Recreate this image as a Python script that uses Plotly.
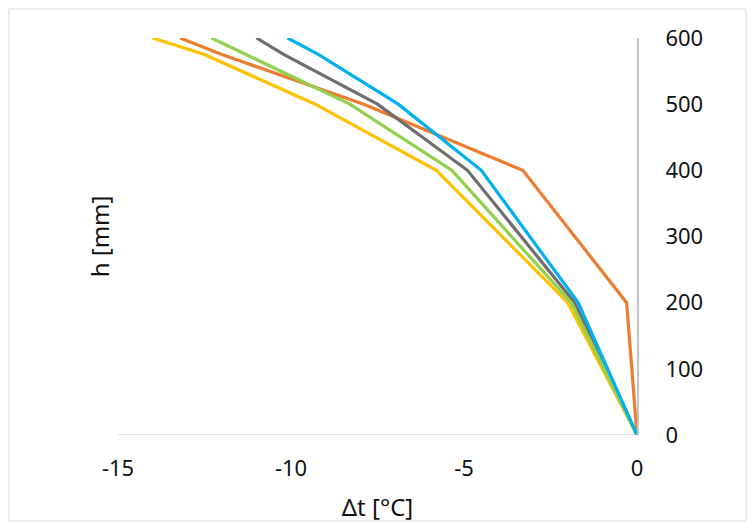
import plotly.graph_objects as go

# Height above the base [mm]
heights = [0, 200, 400, 500, 575, 600]

# Temperature difference profiles [°C]
series = {
    "A": [0, -0.3, -3.3, -7.9, -12.0, -13.2],
    "B": [0, -1.8, -4.9, -7.5, -10.2, -11.0],
    "C": [0, -2.0, -5.8, -9.3, -12.5, -14.0],
    "D": [0, -1.9, -5.35, -8.3, -11.3, -12.3],
    "E": [0, -1.7, -4.5, -6.9, -9.2, -10.1],
}
colors = {
    "A": "#ED7D31",
    "B": "#6E6E6E",
    "C": "#FFC000",
    "D": "#92D050",
    "E": "#00B0F0",
}

x_ticks = [-15, -10, -5, 0]
y_ticks = [0, 100, 200, 300, 400, 500, 600]

fig = go.Figure()
for name, vals in series.items():
    fig.add_trace(go.Scatter(
        x=vals, y=heights, mode="lines", name=name,
        line=dict(color=colors[name], width=3.2),
        showlegend=False,
    ))

tick_font = dict(family="Noto Sans, Open Sans, sans-serif", size=22, color="#111111")
title_font = dict(family="Noto Sans, Open Sans, sans-serif", size=24, color="#111111")

fig.update_layout(
    width=755, height=531,
    margin=dict(l=118, r=118, t=38, b=96),
    paper_bgcolor="white", plot_bgcolor="white",
    font=tick_font,
    xaxis=dict(
        range=[-15, 0], tickvals=x_ticks, ticktext=[str(v) for v in x_ticks],
        showgrid=False, zeroline=False, showline=False, ticks="",
        tickfont=tick_font, ticklabelstandoff=18,
        title=dict(text="Δt [°C]", font=title_font, standoff=18),
    ),
    yaxis=dict(
        range=[0, 600], tickvals=y_ticks, side="right",
        showgrid=False, zeroline=False, showline=True,
        linecolor="#C4C4C4", linewidth=2, ticks="",
        tickfont=tick_font, ticklabelstandoff=22,
    ),
    shapes=[
        # horizontal base line at h = 0
        dict(type="line", xref="x", yref="y", x0=-15, x1=0, y0=0, y1=0,
             line=dict(color="#D9D9D9", width=1.5), layer="below"),
        # chart frame
        dict(type="rect", xref="paper", yref="paper",
             x0=-0.21, x1=1.21, y0=-0.2166, y1=1.073,
             line=dict(color="#D9D9D9", width=1)),
    ],
    annotations=[
        dict(text="h [mm]", xref="paper", yref="paper", x=-0.035, y=0.5,
             textangle=-90, showarrow=False, font=title_font,
             xanchor="center", yanchor="middle"),
    ],
)

fig.write_html("out.html")
